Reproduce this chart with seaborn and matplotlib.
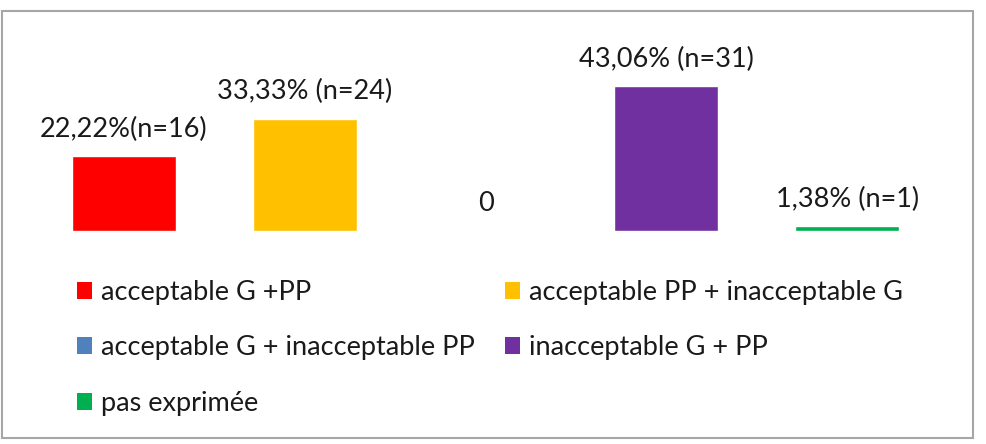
import matplotlib
matplotlib.use("Agg")
import matplotlib.pyplot as plt
from matplotlib.patches import Patch, Rectangle
import seaborn as sns
import pandas as pd

categories = ["acceptable G +PP", "acceptable PP + inacceptable G",
              "acceptable G + inacceptable PP", "inacceptable G + PP",
              "pas exprimée"]
values = [22.22, 33.33, 0.0, 43.06, 1.38]
bar_labels = ["22,22%(n=16)", "33,33% (n=24)", "0", "43,06% (n=31)", "1,38% (n=1)"]
colors = ["#FF0000", "#FFC000", "#4F81BD", "#7030A0", "#00B050"]

sns.set_style("white")
plt.rcParams["font.family"] = ["Lato", "DejaVu Sans"]

df = pd.DataFrame({"cat": categories, "val": values})

fig = plt.figure(figsize=(9.86, 4.44), dpi=100)
ax = fig.add_axes([33.5 / 986, (444 - 231) / 444, 904 / 986, 168 / 444])
sns.barplot(data=df, x="cat", y="val", hue="cat", palette=colors,
            dodge=False, width=0.575, legend=False, ax=ax, saturation=1)
ax.set_xlim(-0.5, 4.5)
ax.set_ylim(0, 50)
ax.axis("off")

for i, (v, lab) in enumerate(zip(values, bar_labels)):
    ax.annotate(lab, (i, v), xytext=(0, 19.5), textcoords="offset points",
                ha="center", va="center", fontsize=19.5, color="#1a1a1a")

handles = [Patch(facecolor=c, edgecolor="none") for c in colors]
order = [0, 2, 4, 1, 3]
fig.legend([handles[i] for i in order], [categories[i] for i in order],
           ncol=2, loc="upper left", bbox_to_anchor=(77 / 986, (444 - 280) / 444),
           frameon=False, fontsize=19.5, borderpad=0, borderaxespad=0,
           handlelength=0.55, handleheight=0.6, handletextpad=0.35,
           labelspacing=1.12, columnspacing=1.1, labelcolor="#1a1a1a")

fig.patches.append(Rectangle((2 / 986, 6 / 444), 971 / 986, 427 / 444,
                             transform=fig.transFigure, fill=False,
                             edgecolor="#A6A6A6", linewidth=1.5))

fig.savefig("out.png", dpi=100)
